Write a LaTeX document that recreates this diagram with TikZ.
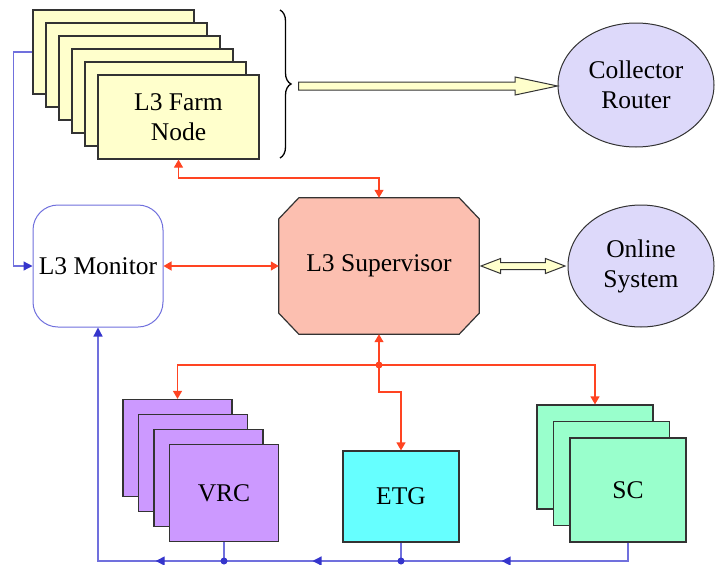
\documentclass[tikz,border=0pt]{standalone}
\usepackage{fontspec}
\setmainfont{Liberation Serif}
\usetikzlibrary{shapes.geometric,shapes.arrows,arrows.meta,backgrounds,decorations.pathreplacing,decorations.markings}
\definecolor{farmyellow}{HTML}{FFFFCC}
\definecolor{vrcpurple}{HTML}{CC99FF}
\definecolor{scgreen}{HTML}{99FFCC}
\definecolor{etgcyan}{HTML}{66FFFF}
\definecolor{suppink}{HTML}{FCBFB0}
\definecolor{lavender}{HTML}{DDD9FA}
\definecolor{boxline}{HTML}{333333}
\definecolor{ctlred}{HTML}{FF4422}
\definecolor{busblue}{HTML}{7070DD}
\definecolor{busdark}{HTML}{3535CC}
\begin{document}
\begin{tikzpicture}[x=1pt, y=-1pt,
  every node/.style = {font=\rmfamily\fontsize{25.5}{30}\selectfont, align=center, inner sep=0pt},
  box/.style = {draw=boxline, line width=1.2pt},
  farmbox/.style = {box, fill=farmyellow, minimum width=161pt, minimum height=84pt},
  vrcbox/.style = {box, fill=vrcpurple, minimum width=109pt, minimum height=97pt},
  scbox/.style = {box, fill=scgreen, minimum width=116pt, minimum height=104pt},
  etgbox/.style = {box, fill=etgcyan, minimum width=116pt, minimum height=91pt},
  monbox/.style = {draw=busblue, line width=1pt, fill=white, rounded corners=25pt,
    minimum width=130pt, minimum height=122pt},
  supbox/.style = {minimum width=200pt, minimum height=136pt},
  router/.style = {box, ellipse, fill=lavender, line width=1pt},
  fatarrow/.style = {box, single arrow, fill=farmyellow, line width=1pt, inner sep=3.5pt,
    minimum width=17pt, single arrow head extend=5pt, single arrow tip angle=24},
  dblarrow/.style = {box, double arrow, fill=farmyellow, line width=1pt, inner sep=3pt,
    minimum width=14pt, double arrow head extend=4pt, double arrow tip angle=42},
  ctl/.style = {draw=ctlred, line width=1.2pt, >={Triangle[length=8pt,width=9pt]}},
  bus/.style = {draw=busblue, line width=1.3pt,
    >={Triangle[length=9pt,width=9pt,color=busdark]}},
  midarrow/.style = {postaction={decorate}, decoration={markings,
    mark=at position #1 with {\arrow{Triangle[length=9pt,width=9pt,color=busdark]}}}},
  midarrow/.default = 0.5]
  \useasboundingbox (0,0) rectangle (715,565);

  \foreach \i in {0,...,4}
    \node[farmbox] (farm\i) at (113.5+13*\i, 52+13*\i) {};
  \node[farmbox] (farm5) at (178.5,117) {L3 Farm\\Node};

  \coordinate (btop) at (280,10);
  \coordinate (bbot) at (280,158);
  \draw[line width=1.3pt, decorate, decoration={brace, amplitude=11pt}] (btop) -- (bbot);
  \coordinate (btip) at (298,86);

  \node[router, minimum width=156pt, minimum height=124pt] (collector) at (636,85) {Collector\\Router};
  \node[fatarrow, minimum height=259pt, anchor=tail] (flow) at (btip) {};

  \node[monbox] (monitor) at (98,266) {L3 Monitor};
  \node[supbox] (sup) at (379,266) {L3 Supervisor};
  \begin{scope}[on background layer]
    \filldraw[box, fill=suppink]
      ([xshift=20pt]sup.north west) -- ([xshift=-20pt]sup.north east)
      -- ([yshift=-21pt]sup.north east) -- ([yshift=21pt]sup.south east)
      -- ([xshift=-20pt]sup.south east) -- ([xshift=20pt]sup.south west)
      -- ([yshift=21pt]sup.south west) -- ([yshift=-21pt]sup.north west) -- cycle;
  \end{scope}
  \node[router, minimum width=146pt, minimum height=122pt] (online) at (641,266) {Online\\System};
  \node[dblarrow, minimum height=84pt] (link) at (523,266) {};

  \foreach \i in {0,1,2}
    \node[vrcbox] (vrc\i) at (177.5+15.5*\i, 448+15*\i) {};
  \node[vrcbox] (vrc3) at (224,493) {VRC};
  \node[etgbox] (etg) at (401,496.5) {ETG};
  \foreach \i in {0,1}
    \node[scbox] (sc\i) at (595+16.5*\i, 457+16.5*\i) {};
  \node[scbox] (sc2) at (628,490) {SC};

  \coordinate (fbend) at (379,178);
  \coordinate (hub) at (379,365);
  \coordinate (ebend) at (401,392);
  \draw[ctl,<->] (monitor.east) -- (sup.west);
  \draw[ctl,<->] (farm5.south) |- (fbend) -- (sup.north);
  \draw[ctl,->] (hub) -- (sup.south);
  \draw[ctl,->] (hub) -| (vrc0.north);
  \draw[ctl,->] (hub) -| (sc0.north);
  \draw[ctl,->] (hub) |- (ebend) -- (etg.north);
  \fill[ctlred] (hub) circle (3.5pt);

  \coordinate (betg) at (401,561);
  \coordinate (bvrc) at (224,561);
  \draw[bus, midarrow=0.59] (sc2.south) |- (betg);
  \draw[bus] (etg.south) -- (betg);
  \draw[bus, midarrow] (betg) -- (bvrc);
  \draw[bus] (vrc3.south) -- (bvrc);
  \draw[bus, ->, midarrow=0.19] (bvrc) -| (monitor.south);
  \draw[bus, ->] (farm0.west) -- ++(-19,0) |- (monitor.west);
  \fill[busdark] (betg) circle (3.5pt) (bvrc) circle (3.5pt);
\end{tikzpicture}
\end{document}
